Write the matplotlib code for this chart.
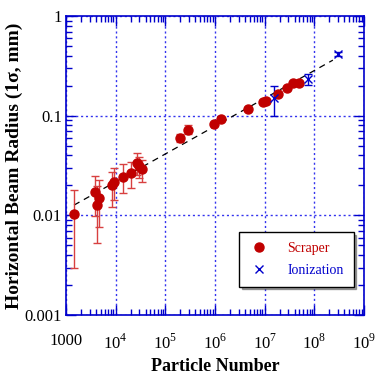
import matplotlib
matplotlib.use('Agg')
import numpy as np
import matplotlib.pyplot as plt
from matplotlib.lines import Line2D
from matplotlib.ticker import LogLocator, FixedLocator, FixedFormatter, NullFormatter

plt.rcParams['font.family'] = ['Liberation Serif', 'DejaVu Serif']
plt.rcParams['mathtext.fontset'] = 'custom'
plt.rcParams['mathtext.rm'] = 'Liberation Serif'

# Scraper measurements: particle number, radius (mm), error range
scraper_n = [1450, 3750, 4150, 4620, 8300, 9340, 13800, 20100, 27100, 29000, 33300,
             194000, 289000, 964000, 1.33e6, 4.66e6, 9.3e6, 1.06e7, 1.87e7, 2.84e7,
             3.64e7, 4.8e7]
scraper_r = [0.0103, 0.0173, 0.0127, 0.0151, 0.0200, 0.0219, 0.0243, 0.0266, 0.0333,
             0.0310, 0.0290, 0.0593, 0.0720, 0.0826, 0.0933, 0.1175, 0.138, 0.140,
             0.164, 0.188, 0.211, 0.211]
scraper_lo = [0.00297, 0.0098, 0.0053, 0.0077, 0.0122, 0.0142, 0.0169, 0.0190, 0.0253,
              0.0240, 0.0216, 0.0540, 0.0650, 0.0826, 0.0933, 0.1175, 0.138, 0.140,
              0.164, 0.188, 0.211, 0.211]
scraper_hi = [0.0180, 0.0250, 0.0196, 0.0226, 0.0274, 0.0297, 0.0327, 0.0343, 0.0420,
              0.0385, 0.0360, 0.0650, 0.0800, 0.0826, 0.0933, 0.1175, 0.138, 0.140,
              0.164, 0.188, 0.211, 0.211]

# Ionization monitor measurements
ion_n = [1.53e7, 7.3e7, 2.97e8]
ion_r = [0.152, 0.233, 0.419]
ion_lo = [0.100, 0.206, 0.400]
ion_hi = [0.200, 0.264, 0.440]

# Power-law fit line end points
fit_n = [1450, 2.35e8]
fit_r = [0.0127, 0.362]

xtick_vals = [1e3, 1e4, 1e5, 1e6, 1e7, 1e8, 1e9]
xtick_labels = ['1000', '$10^{4}$', '$10^{5}$', '$10^{6}$', '$10^{7}$', '$10^{8}$', '$10^{9}$']
ytick_vals = [0.001, 0.01, 0.1, 1]
ytick_labels = ['0.001', '0.01', '0.1', '1']

red = '#C00000'
blue = '#0000CC'

fig = plt.figure(figsize=(3.75, 3.76), dpi=100)
ax = fig.add_axes([0.176, 0.162, 0.795, 0.795])
ax.set_xscale('log')
ax.set_yscale('log')
ax.set_xlim(1e3, 1e9)
ax.set_ylim(1e-3, 1)

ax.grid(True, which='major', color='#3333EE', linestyle=(0, (1.5, 2)), linewidth=1.0)

ax.plot(fit_n, fit_r, color='black', linestyle=(0, (5, 4)), linewidth=0.9, zorder=2)

s_r = np.array(scraper_r)
s_err = [s_r - np.array(scraper_lo), np.array(scraper_hi) - s_r]
ax.errorbar(scraper_n, scraper_r, yerr=s_err, fmt='o', color=red, ecolor='#D84040',
            ms=6.5, elinewidth=1.0, capsize=3, capthick=1.0, zorder=3)

i_r = np.array(ion_r)
i_err = [i_r - np.array(ion_lo), np.array(ion_hi) - i_r]
ax.errorbar(ion_n, ion_r, yerr=i_err, fmt='x', color=blue, ecolor=blue,
            ms=6, mew=1.0, elinewidth=1.0, capsize=3, capthick=1.0, zorder=3)

for sp in ax.spines.values():
    sp.set_color(blue)
    sp.set_linewidth(1.2)

ax.xaxis.set_major_locator(FixedLocator(xtick_vals))
ax.xaxis.set_major_formatter(FixedFormatter(xtick_labels))
ax.yaxis.set_major_locator(FixedLocator(ytick_vals))
ax.yaxis.set_major_formatter(FixedFormatter(ytick_labels))
ax.xaxis.set_minor_locator(LogLocator(base=10, subs=np.arange(2, 10), numticks=20))
ax.yaxis.set_minor_locator(LogLocator(base=10, subs=np.arange(2, 10), numticks=20))
ax.xaxis.set_minor_formatter(NullFormatter())
ax.yaxis.set_minor_formatter(NullFormatter())
ax.tick_params(which='both', direction='in', top=True, right=True, color=blue,
               labelsize=12, labelcolor='black')
ax.tick_params(which='major', length=7, width=1.0)
ax.tick_params(which='minor', length=4, width=1.0)
ax.tick_params(axis='x', which='major', pad=13)
ax.tick_params(axis='y', which='major', pad=3)

ax.set_xlabel('Particle Number', fontsize=13, fontweight='bold', labelpad=4)
ax.set_ylabel('Horizontal Beam Radius (1\u03c3, mm)', fontsize=14, fontweight='bold', labelpad=1)

handles = [Line2D([], [], linestyle='none', marker='o', color=red, ms=6.5),
           Line2D([], [], linestyle='none', marker='x', color=blue, ms=6, mew=1.0)]
leg = ax.legend(handles, ['Scraper', 'Ionization'], loc='lower right',
                bbox_to_anchor=(0.965, 0.095), fontsize=10,
                frameon=True, fancybox=False, shadow=True, edgecolor='black',
                borderpad=0.7, handlelength=1.5, handletextpad=1.3, labelspacing=0.65,
                numpoints=1, borderaxespad=0)
leg.get_frame().set_linewidth(1.0)
for txt, c in zip(leg.get_texts(), [red, blue]):
    txt.set_color(c)

fig.savefig('out.png', dpi=100)
